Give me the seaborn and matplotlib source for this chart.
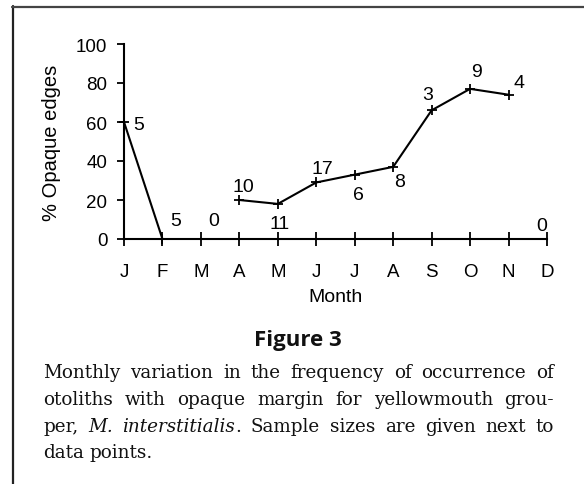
import numpy as np
import pandas as pd
import matplotlib
matplotlib.use("Agg")
import matplotlib.pyplot as plt
from matplotlib.lines import Line2D
import seaborn as sns

# ---- data ----
months = ["J", "F", "M", "A", "M", "J", "J", "A", "S", "O", "N", "D"]
pct_opaque = [60, 0, np.nan, 20, 18, 29, 33, 37, 66, 77, 74, np.nan]
sample_sizes = ["5", "5", "0", "10", "11", "17", "6", "8", "3", "9", "4", "0"]
yticks = [0, 20, 40, 60, 80, 100]

# label offsets in pixels (styling)
label_offsets = [(15, -2), (13, 18), (13, 18), (4, 14), (2, -20), (6, 14),
                 (3.5, -20), (6.5, -14.5), (-3.5, 16), (6.5, 17.5), (10.5, 12), (-5.5, 13.5)]

W, H = 584, 485
sns.set_style("ticks")
plt.rcParams["font.family"] = ["Liberation Sans", "DejaVu Sans"]
plt.rcParams["text.color"] = "black"
plt.rcParams["axes.labelcolor"] = "black"

fig = plt.figure(figsize=(W / 100, H / 100), dpi=100)
fig.patch.set_facecolor("white")
ax = fig.add_axes([124 / W, 1 - 240 / H, (547 - 124) / W, (240 - 45) / H])

df = pd.DataFrame({"x": np.arange(len(months)), "pct": pct_opaque})
df["seg"] = df["pct"].isna().cumsum()
df_line = df.dropna()

sns.lineplot(data=df_line, x="x", y="pct", units="seg", estimator=None,
             color="black", linewidth=1.5, marker="+", markersize=7.5,
             markeredgecolor="black", markeredgewidth=1.3, ax=ax, legend=False)
for l in ax.lines:
    l.set_clip_on(False)

ax.set_xlim(0, len(months) - 1)
ax.set_ylim(0, 100)
ax.set_xticks(np.arange(len(months)))
ax.set_xticklabels(months)
ax.set_yticks(yticks)
ax.set_yticklabels([str(v) for v in yticks])
ax.set_xlabel("")
ax.set_ylabel("% Opaque edges", fontsize=14.5, labelpad=11, color="black")
for s in ["top", "right"]:
    ax.spines[s].set_visible(False)
for s in ["left", "bottom"]:
    ax.spines[s].set_linewidth(1.5)
    ax.spines[s].set_color("black")
ax.tick_params(axis="x", direction="inout", length=9.5, width=1.3, pad=12.5,
               labelsize=13.5, colors="black")
ax.tick_params(axis="y", direction="out", length=5, width=1.3, pad=7,
               labelsize=13.5, colors="black")
ax.set_facecolor("white")

for i, (lab, off) in enumerate(zip(sample_sizes, label_offsets)):
    yv = pct_opaque[i]
    if np.isnan(yv):
        yv = 0
    ax.annotate(lab, (i, yv), xytext=off, textcoords="offset pixels",
                ha="center", va="center", fontsize=14, color="black",
                annotation_clip=False)

def fx(px):
    return px / W

def fy(py):
    return 1 - py / H

fig.text(fx(335), fy(302), "Month", ha="center", va="baseline", fontsize=14,
         color="black")

fig.text(fx(298), fy(346), "Figure 3", ha="center", va="baseline",
         fontsize=16, fontweight="bold", family=["Open Sans", "DejaVu Sans"],
         color="#111111")

# frame lines
fig.add_artist(Line2D([fx(13), fx(13)], [fy(7), 0], color="#222222", lw=1.6))
fig.add_artist(Line2D([fx(12), 1], [fy(8), fy(8)], color="#444444", lw=1.6))

# caption with justified lines
serif = ["DejaVu Serif"]
cap_size = 13.2
renderer = fig.canvas.get_renderer()
caption_lines = [
    [[("Monthly", "normal")], [("variation", "normal")], [("in", "normal")], [("the", "normal")],
     [("frequency", "normal")], [("of", "normal")], [("occurrence", "normal")], [("of", "normal")]],
    [[("otoliths", "normal")], [("with", "normal")], [("opaque", "normal")], [("margin", "normal")],
     [("for", "normal")], [("yellowmouth", "normal")], [("grou-", "normal")]],
    [[("per,", "normal")], [("M.", "italic")], [("interstitialis", "italic"), (".", "normal")],
     [("Sample", "normal")], [("sizes", "normal")], [("are", "normal")], [("given", "normal")],
     [("next", "normal")], [("to", "normal")]],
    [[("data", "normal")], [("points.", "normal")]],
]
baselines = [378, 405, 432, 458]
x_left, x_right = 43, 554

def seg_width(text, style, size):
    t = fig.text(0, 0, text, fontsize=size, family=serif, style=style)
    w = t.get_window_extent(renderer).width
    t.remove()
    return w

# shrink font if a line would not fit
size = cap_size
while True:
    sp = seg_width("a a", "normal", size) - seg_width("aa", "normal", size)
    ok = True
    for words in caption_lines:
        tot = sum(sum(seg_width(t, s, size) for t, s in w) for w in words)
        if tot + sp * 0.8 * (len(words) - 1) > x_right - x_left:
            ok = False
    if ok:
        break
    size -= 0.1

space_w = seg_width("a a", "normal", size) - seg_width("aa", "normal", size)
for li, (words, by) in enumerate(zip(caption_lines, baselines)):
    widths = [sum(seg_width(t, s, size) for t, s in w) for w in words]
    justify = li < len(caption_lines) - 1
    if justify and len(words) > 1:
        gap = (x_right - x_left - sum(widths)) / (len(words) - 1)
    else:
        gap = space_w
    x = x_left
    for w, ww in zip(words, widths):
        xx = x
        for t, s in w:
            fig.text(fx(xx), fy(by), t, fontsize=size, family=serif, style=s,
                     ha="left", va="baseline", color="#111111")
            xx += seg_width(t, s, size)
        x += ww + gap

fig.savefig("out.png", dpi=100, facecolor="white")
